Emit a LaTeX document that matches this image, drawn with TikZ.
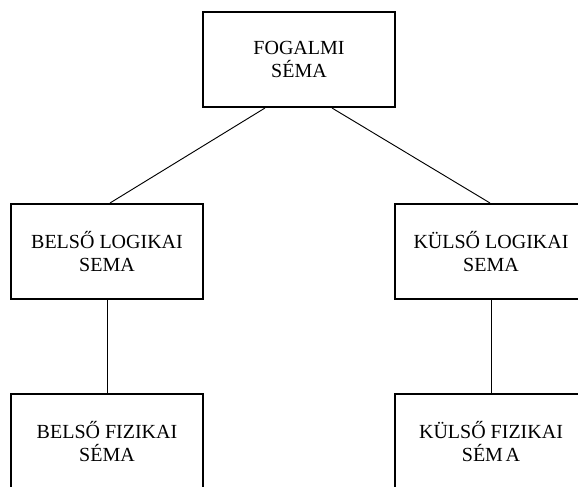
\documentclass[tikz,border=0pt]{standalone}
\usepackage{fontspec}
\setmainfont{Liberation Serif}
\usetikzlibrary{calc}
\begin{document}
\begin{tikzpicture}[x=0.75pt,y=-0.75pt,
  schemabox/.style={draw,line width=1.5pt,rectangle,minimum width=144pt,minimum height=71.25pt,
    align=center,inner sep=0pt,font=\fontsize{15}{17.5}\selectfont},
  link/.style={line width=0.7pt}]
\useasboundingbox (0,0) rectangle (578,486);
\node[schemabox] (fog) at (299,59.5) {FOGALMI\\SÉMA};
\node[schemabox] (bl) at (107,251.5) {BELSŐ LOGIKAI\\SEMA};
\node[schemabox] (kl) at (491,251.5) {KÜLSŐ LOGIKAI\\SEMA};
\node[schemabox] (bf) at (107,441.5) {BELSŐ FIZIKAI\\SÉMA};
\node[schemabox] (kf) at (491,441.5) {KÜLSŐ FIZIKAI\\SÉM\kern2pt A};
\draw[link] ($(fog.south west)+(63,0)$) -- ($(bl.north)+(3,0)$);
\draw[link] ($(fog.south west)+(130,0)$) -- ($(kl.north)+(-1,0)$);
\draw[link] (bl.south) -- (bf.north);
\draw[link] (kl.south) -- (kf.north);
\end{tikzpicture}
\end{document}
